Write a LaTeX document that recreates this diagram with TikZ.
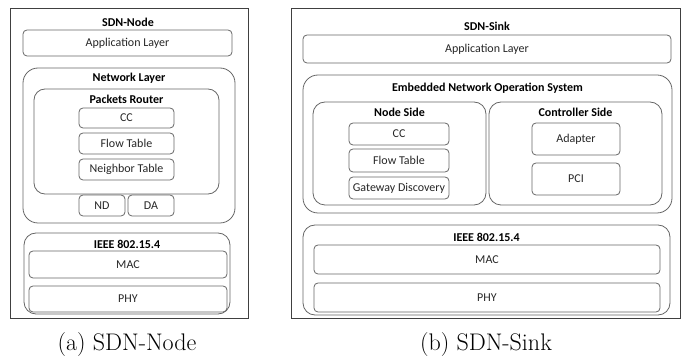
\documentclass[tikz,border=0pt]{standalone}
\usepackage{fontspec}
\newfontfamily\calibri{Carlito}
\usetikzlibrary{positioning}

\tikzset{
  frame/.style={draw=black!75, line width=0.9pt},
  size/.style 2 args={minimum width=#1pt, minimum height=#2pt},
  layer/.style={draw=black!60, line width=0.8pt, rounded corners=4pt, inner sep=0pt,
    font=\calibri\fontsize{12}{14}\selectfont, text=black!85},
  group/.style={draw=black!60, line width=0.8pt, rounded corners=13pt, inner sep=0pt},
  heading/.style={font=\calibri\bfseries\fontsize{12}{14}\selectfont, inner sep=0pt},
  caption/.style={font=\fontsize{24}{28}\selectfont, inner sep=0pt}
}

\begin{document}
\begin{tikzpicture}[x=1pt,y=-1pt]
\useasboundingbox (0,0) rectangle (681,358);

% SDN node stack
\draw[frame] (10,8) rectangle (248,318);
\node[heading] (nodetitle) at (128,22) {SDN-Node};
\node[layer,size={209}{26}] (nodeapp) at (127.5,43) {Application Layer};
\node[group,size={212}{155},rounded corners=15pt] (netlayer) at (129,145.5) {};
\node[heading] (nettitle) at (129,78) {Network Layer};
\node[group,size={185}{105},rounded corners=11pt] (router) at (126.5,141.5) {};
\node[heading] (routertitle) at (126.5,99) {Packets Router};
\node[layer,size={95}{20}] (nodecc) at (126.5,118) {CC};
\node[layer,size={95}{21}] (nodeflow) at (126.5,143.5) {Flow Table};
\node[layer,size={95}{21}] (neighbor) at (126.5,169.5) {Neighbor Table};
\node[layer,size={46}{21}] (nd) at (102,205.5) {ND};
\node[layer,size={46}{21}] (da) at (151,205.5) {DA};
\node[group,size={206}{81},rounded corners=12pt] (nodeieee) at (127,273.5) {};
\node[heading] (nodeieeetitle) at (127,244) {IEEE 802.15.4};
\node[layer,size={198}{27}] (nodemac) at (128,264.5) {MAC};
\node[layer,size={198}{26}] (nodephy) at (128,299) {PHY};
\node[caption] (capnode) at (127,345) {(a) SDN-Node};

% SDN sink stack
\draw[frame] (291,8) rectangle (680.5,318);
\node[heading] (sinktitle) at (487,26) {SDN-Sink};
\node[layer,size={368}{28}] (sinkapp) at (487,49) {Application Layer};
\node[group,size={369}{138},rounded corners=15pt] (enos) at (487.5,144) {};
\node[heading] (enostitle) at (487.5,88) {Embedded Network Operation System};
\node[group,size={173}{103},rounded corners=12pt] (nodeside) at (399.5,153.5) {};
\node[heading] (nodesidetitle) at (399.5,112) {Node Side};
\node[group,size={173}{103},rounded corners=12pt] (ctrlside) at (575.5,153.5) {};
\node[heading] (ctrlsidetitle) at (575.5,112) {Controller Side};
\node[layer,size={100}{22}] (sinkcc) at (399,134) {CC};
\node[layer,size={100}{23}] (sinkflow) at (399,160.5) {Flow Table};
\node[layer,size={100}{22}] (gateway) at (399,188) {Gateway Discovery};
\node[layer,size={88}{32}] (adapter) at (576,139) {Adapter};
\node[layer,size={88}{32}] (pci) at (576,179) {PCI};
\node[group,size={367}{90},rounded corners=12pt] (sinkieee) at (486.5,270) {};
\node[heading] (sinkieeetitle) at (486.5,237) {IEEE 802.15.4};
\node[layer,size={346}{29}] (sinkmac) at (487,259.5) {MAC};
\node[layer,size={346}{29}] (sinkphy) at (487,297.5) {PHY};
\node[caption] (capsink) at (486,345) {(b) SDN-Sink};
\end{tikzpicture}
\end{document}
